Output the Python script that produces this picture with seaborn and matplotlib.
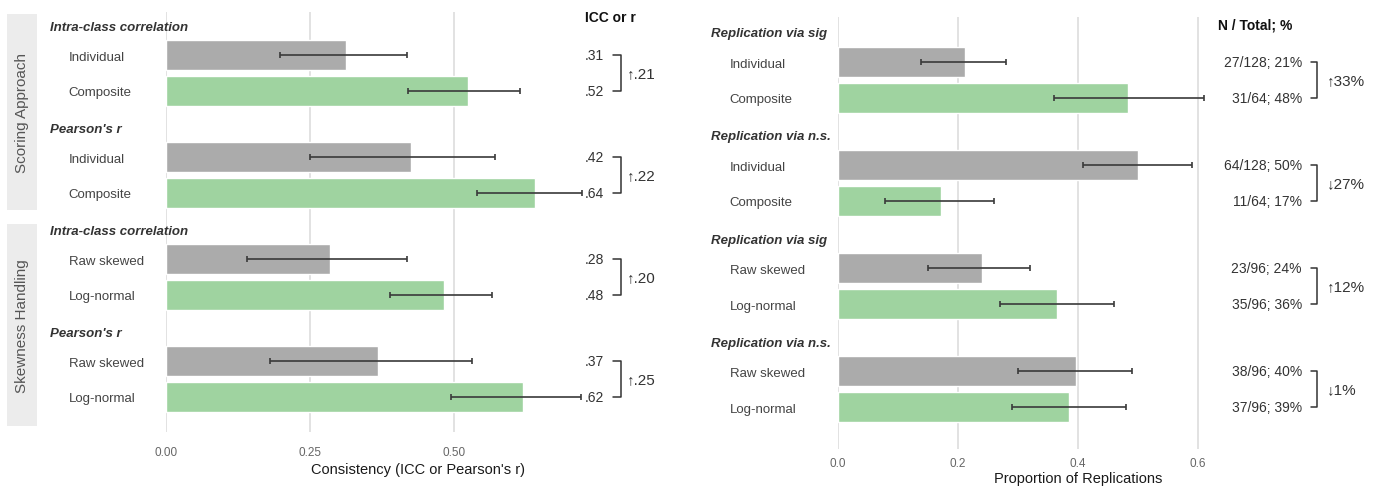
import numpy as np
import pandas as pd
import matplotlib
matplotlib.use("Agg")
import matplotlib.pyplot as plt
from matplotlib.patches import Rectangle
import seaborn as sns

sns.set_theme(style="white")
plt.rcParams["font.family"] = ["Liberation Sans", "DejaVu Sans"]

# ---- left panel: consistency ----
left_labels = ["Individual", "Composite", "Individual", "Composite",
               "Raw skewed", "Log-normal", "Raw skewed", "Log-normal"]
left_vals = [0.312, 0.524, 0.425, 0.640, 0.284, 0.482, 0.368, 0.620]
left_lo = [0.198, 0.420, 0.250, 0.540, 0.140, 0.389, 0.180, 0.494]
left_hi = [0.419, 0.615, 0.572, 0.723, 0.419, 0.566, 0.531, 0.721]
left_headers = ["Intra-class correlation", "Pearson's r",
                "Intra-class correlation", "Pearson's r"]
left_text = [".31", ".52", ".42", ".64", ".28", ".48", ".37", ".62"]
left_diff = ["↑.21", "↑.22", "↑.20", "↑.25"]
left_ticks = [0, 0.25, 0.5]
left_ticklabels = ["0.00", "0.25", "0.50"]

# ---- right panel: replications ----
right_labels = ["Individual", "Composite", "Individual", "Composite",
                "Raw skewed", "Log-normal", "Raw skewed", "Log-normal"]
right_vals = [0.211, 0.484, 0.500, 0.172, 0.240, 0.365, 0.396, 0.385]
right_lo = [0.139, 0.360, 0.409, 0.079, 0.150, 0.270, 0.300, 0.290]
right_hi = [0.280, 0.610, 0.590, 0.260, 0.320, 0.460, 0.490, 0.480]
right_headers = ["Replication via sig", "Replication via n.s.",
                 "Replication via sig", "Replication via n.s."]
right_text = ["27/128; 21%", "31/64; 48%", "64/128; 50%", "11/64; 17%",
              "23/96; 24%", "35/96; 36%", "38/96; 40%", "37/96; 39%"]
right_diff = ["↑33%", "↓27%", "↑12%", "↓1%"]
right_ticks = [0, 0.2, 0.4, 0.6]
right_ticklabels = ["0.0", "0.2", "0.4", "0.6"]

kind = ["base", "alt"] * 4
facets = ["Scoring Approach", "Skewness Handling"]

GREY = "#ababab"
GREEN = "#9fd3a0"
DARK = "#333333"

W, H = 1381, 489
fig = plt.figure(figsize=(W / 100, H / 100), dpi=100)


def px_axes(x0, x1, y0, y1):
    return fig.add_axes([x0 / W, 1 - y1 / H, (x1 - x0) / W, (y1 - y0) / H])


def panel(ax, labels, vals, lo, hi, headers, gap, ylim, xmax, ticks, ticklabels,
          xlabel, label_pad, head_x, tick_pad, xlabel_pad):
    pos = [p * gap + i for p in range(4) for i in (0, 1)]
    df = pd.DataFrame({"y": pos, "x": vals, "kind": kind})
    sns.barplot(data=df, x="x", y="y", hue="kind", orient="y", native_scale=True,
                palette={"base": GREY, "alt": GREEN}, dodge=False, width=0.845,
                errorbar=None, legend=False, saturation=1, ax=ax)
    v = np.array(vals)
    ax.errorbar(v, pos, xerr=[v - np.array(lo), np.array(hi) - v], fmt="none",
                ecolor="#3a3a3a", elinewidth=1.2, capsize=2.5, capthick=1.2, zorder=5)
    ax.set_xlim(0, xmax)
    ax.set_ylim(*ylim)
    ax.set_xticks(ticks, ticklabels)
    ax.set_yticks(pos, labels)
    ax.tick_params(axis="y", length=0, pad=label_pad, labelsize=9.5, labelcolor="#444444")
    ax.tick_params(axis="x", length=0, pad=tick_pad, labelsize=8.5, labelcolor="#666666")
    for t in ax.get_yticklabels():
        t.set_ha("left")
    ax.grid(axis="x", color="#e2e2e2", lw=1.4)
    ax.grid(axis="y", visible=False)
    ax.set_axisbelow(True)
    ax.set_ylabel("")
    ax.set_xlabel(xlabel, fontsize=10.5, color="#1a1a1a", labelpad=xlabel_pad)
    sns.despine(ax=ax, left=True, bottom=True)
    tr = ax.get_yaxis_transform()
    for k, h in enumerate(headers):
        ax.text(head_x, k * gap - 0.8, h, transform=tr, fontsize=9.5,
                fontweight="bold", style="italic", color=DARK, va="center",
                ha="left", clip_on=False)
    return pos


def brackets(ax, pos, texts, diffs, tx, ha, xt, xl, xd, size):
    for k in range(4):
        y0, y1 = pos[2 * k], pos[2 * k + 1]
        ax.text(tx, y0, texts[2 * k], ha=ha, va="center", fontsize=size, color=DARK, clip_on=False)
        ax.text(tx, y1, texts[2 * k + 1], ha=ha, va="center", fontsize=size, color=DARK, clip_on=False)
        ax.plot([xt, xl, xl, xt], [y0, y0, y1, y1], color=DARK, lw=1.1, clip_on=False)
        ax.text(xd, (y0 + y1) / 2, diffs[k], ha="left", va="center", fontsize=11,
                color=DARK, clip_on=False)


# left panel
axl = px_axes(166, 670, 13, 433)
pos_l = panel(axl, left_labels, left_vals, left_lo, left_hi, left_headers, 2.87,
              (10.61, -1.225), 0.875, left_ticks, left_ticklabels,
              "Consistency (ICC or Pearson's r)", 70, (50 - 166) / 504, 10, 3)
brackets(axl, pos_l, left_text, left_diff, 0.727, "left", 0.776, 0.790, 0.800, 10)
axl.text(0.727, -1.08, "ICC or r", fontsize=10, fontweight="bold", color="#111111",
         ha="left", va="center", clip_on=False)

# right panel
axr = px_axes(838, 1318, 18, 450)
pos_r = panel(axr, right_labels, right_vals, right_lo, right_hi, right_headers, 2.88,
              (10.81, -1.257), 0.8, right_ticks, right_ticklabels,
              "Proportion of Replications", 78, (711 - 838) / 480, 6, 1)
brackets(axr, pos_r, right_text, right_diff, 0.773, "right", 0.788, 0.798, 0.815, 10)
axr.text(0.633, -1.06, "N / Total; %", fontsize=10, fontweight="bold", color="#111111",
         ha="left", va="center", clip_on=False)

# facet strips on the left
for name, (y0, y1) in zip(facets, [(15, 211), (225, 427)]):
    fig.patches.append(Rectangle((7 / W, 1 - y1 / H), 30 / W, (y1 - y0) / H,
                                 transform=fig.transFigure, facecolor="#ececec",
                                 edgecolor="none"))
    fig.text(22 / W, 1 - (y0 + y1) / 2 / H, name, rotation=90, ha="center",
             va="center", fontsize=11, color="#555555")

fig.savefig("out.png", dpi=100)
